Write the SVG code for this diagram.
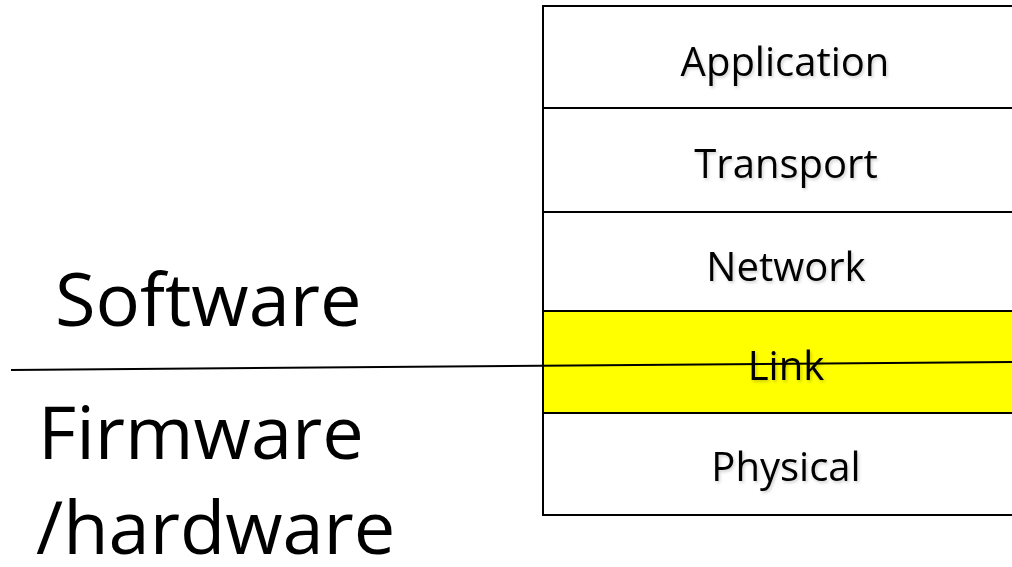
<svg xmlns="http://www.w3.org/2000/svg" width="1012" height="567" viewBox="0 0 1012 567">
<defs>
<filter id="sh" x="-10%" y="-20%" width="120%" height="150%"><feDropShadow dx="1.5" dy="2" stdDeviation="1.5" flood-color="#000" flood-opacity="0.18"/></filter>
<style>
.layer rect{stroke:#000;stroke-width:2}
.lt{font-family:"Open Sans","Liberation Sans",sans-serif;font-size:40px;fill:#000;text-anchor:middle;filter:url(#sh)}
.big{font-family:"Open Sans","Liberation Sans",sans-serif;font-size:74px;fill:#000}
</style>
</defs>
<rect width="1012" height="567" fill="#fff"/>
<g id="application" class="layer"><rect x="543" y="6" width="480" height="102" fill="#fff"/><text class="lt" x="785" y="76">Application</text></g>
<g id="transport" class="layer"><rect x="543" y="108" width="480" height="104" fill="#fff"/><text class="lt" x="786" y="178">Transport</text></g>
<g id="network" class="layer"><rect x="543" y="212" width="480" height="99" fill="#fff"/><text class="lt" x="786" y="281">Network</text></g>
<g id="link" class="layer"><rect x="543" y="311" width="480" height="102" fill="#ffff00"/><text class="lt" x="786" y="380">Link</text></g>
<g id="physical" class="layer"><rect x="543" y="413" width="480" height="102" fill="#fff"/><text class="lt" x="786" y="481">Physical</text></g>
<g id="labels">
<text class="big" x="55" y="326">Software</text>
<text class="big" x="38" y="459">Firmware</text>
<text class="big" x="36" y="554">/hardware</text>
</g>
<g id="connectors"><line x1="11" y1="370" x2="1012" y2="362" stroke="#000" stroke-width="2"/></g>
</svg>
